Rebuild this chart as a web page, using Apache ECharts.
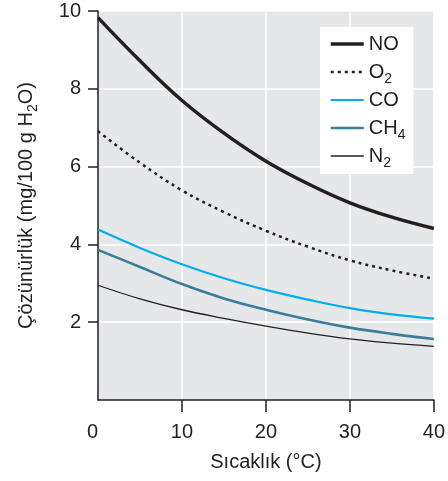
<!DOCTYPE html>
<html>
<head>
<meta charset="utf-8">
<script src="https://cdn.jsdelivr.net/npm/echarts@6/dist/echarts.min.js"></script>
<style>
  html, body { margin: 0; padding: 0; background: #fff; }
  #main { width: 448px; height: 481px; }
</style>
</head>
<body>
<div id="main"></div>
<script>
// sıcaklık (°C) ve çözünürlük değerleri
var gases = ['NO', 'O2', 'CO', 'CH4', 'N2'];
var legendText = ['NO', 'O{sub|2}', 'CO', 'CH{sub|4}', 'N{sub|2}'];
var temps = [0, 5, 10, 15, 20, 25, 30, 35, 40];
var xTicks = [0, 10, 20, 30, 40];
var yTicks = [2, 4, 6, 8, 10];

var noVals = [9.83, 8.72, 7.70, 6.86, 6.14, 5.56, 5.07, 4.70, 4.41];
var o2Vals = [6.91, 6.10, 5.39, 4.83, 4.35, 3.94, 3.59, 3.33, 3.12];
var coVals = [4.38, 3.91, 3.49, 3.13, 2.83, 2.58, 2.36, 2.20, 2.09];
var ch4Vals = [3.86, 3.42, 2.98, 2.61, 2.32, 2.07, 1.86, 1.70, 1.57];
var n2Vals = [2.95, 2.60, 2.32, 2.10, 1.90, 1.72, 1.57, 1.46, 1.38];

var ink = '#231f20';
var font = 'Liberation Sans, Arial, sans-serif';
var subStyle = { fontSize: 14, fontFamily: font, color: ink, verticalAlign: 'bottom' };

function pairs(vals) {
    return temps.map(function (t, i) { return [t, vals[i]]; });
}

function line(name, vals, color, width, type) {
    return {
        name: name,
        type: 'line',
        data: pairs(vals),
        smooth: 0.4,
        symbol: 'none',
        lineStyle: { color: color, width: width, type: type || 'solid' },
        itemStyle: { color: color }
    };
}

var chart = echarts.init(document.getElementById('main'));
chart.setOption({
    animation: false,
    grid: {
        left: 98, top: 11, right: 12, bottom: 81,
        show: true, backgroundColor: '#e6e7e8', borderWidth: 0
    },
    legend: {
        orient: 'vertical',
        left: 320, top: 27,
        backgroundColor: '#fff',
        padding: [3, 8, 4, 9],
        itemWidth: 33, itemHeight: 14, itemGap: 0,
        data: gases,
        itemStyle: { opacity: 0 },
        lineStyle: { width: 'inherit' },
        formatter: function (n) { return legendText[gases.indexOf(n)]; },
        textStyle: { fontSize: 20, fontFamily: font, color: ink, lineHeight: 28, rich: { sub: subStyle } }
    },
    xAxis: {
        type: 'value', min: 0, max: 40, interval: 10,
        name: 'Sıcaklık (°C)', nameLocation: 'middle', nameGap: 52,
        nameTextStyle: { fontSize: 20, fontFamily: font, color: ink },
        axisLine: { lineStyle: { color: ink, width: 1.5 } },
        axisTick: { show: true, length: 12, inside: false, customValues: [10, 20, 30, 40], lineStyle: { color: ink, width: 1.5 } },
        axisLabel: { fontSize: 20, fontFamily: font, color: ink, margin: 22, customValues: xTicks, alignMinLabel: 'right' },
        splitLine: { show: true, lineStyle: { color: '#fff', width: 1.5 } }
    },
    yAxis: {
        type: 'value', min: 0, max: 10, interval: 2,
        name: 'Çözünürlük (mg/100 g H{sub|2}O)', nameLocation: 'middle', nameGap: 58,
        nameTextStyle: { fontSize: 20, fontFamily: font, color: ink, lineHeight: 28, rich: { sub: subStyle } },
        axisLine: { show: true, lineStyle: { color: ink, width: 1.5 } },
        axisTick: { show: true, length: 10, customValues: yTicks, lineStyle: { color: ink, width: 1.5 } },
        axisLabel: { fontSize: 20, fontFamily: font, color: ink, margin: 17, customValues: yTicks },
        splitLine: { show: true, lineStyle: { color: '#fff', width: 1.5 } }
    },
    series: [
        line('NO', noVals, ink, 3.5),
        line('O2', o2Vals, ink, 2.5, [3, 4]),
        line('CO', coVals, '#00aeef', 2.2),
        line('CH4', ch4Vals, '#3a7d98', 2.6),
        line('N2', n2Vals, ink, 1.3)
    ]
});
</script>
</body>
</html>
